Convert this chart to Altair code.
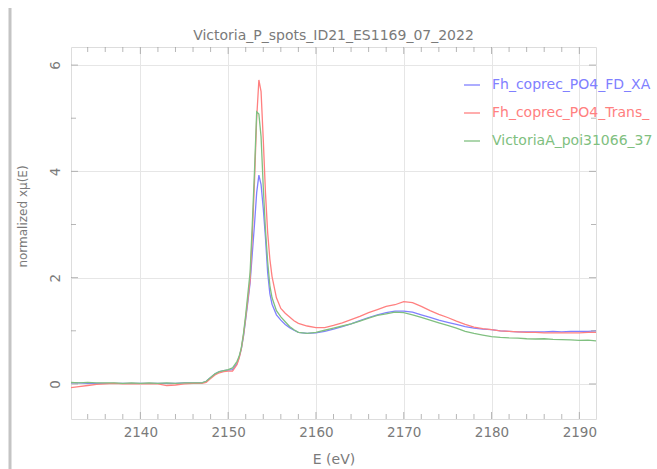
import altair as alt
import pandas as pd

# ---------------- data ----------------
energy = (
    [2132, 2133, 2134, 2135, 2136, 2137, 2138, 2139, 2140, 2141, 2142, 2143, 2144, 2145, 2146]
    + [2147, 2147.5, 2148, 2148.5, 2149, 2149.5, 2150, 2150.5]
    + [2151, 2151.25, 2151.5, 2151.75, 2152, 2152.25, 2152.5, 2152.75, 2153, 2153.25, 2153.5,
       2153.75, 2154, 2154.25, 2154.5, 2154.75, 2155, 2155.5, 2156, 2156.5, 2157, 2157.5]
    + [2158, 2159, 2160, 2161, 2162, 2163, 2164, 2165, 2166, 2167, 2168, 2169, 2170, 2171, 2172,
       2173, 2174, 2175, 2176, 2177, 2178, 2179, 2180, 2181, 2182, 2183, 2184, 2185, 2186, 2187,
       2188, 2189, 2190, 2191, 2192]
)

blue_fd = (
    [0.02, 0.02, 0.01, 0.01, 0.01, 0.01, 0.01, 0.01, 0.01, 0.01, 0.01, 0.01, 0.01, 0.02, 0.02]
    + [0.02, 0.05, 0.12, 0.19, 0.23, 0.25, 0.26, 0.27]
    + [0.38, 0.5, 0.66, 0.9, 1.22, 1.55, 1.9, 2.45, 3.0, 3.6, 3.93, 3.75, 3.3, 2.75, 2.1, 1.7,
       1.5, 1.3, 1.2, 1.12, 1.06, 1.01]
    + [0.97, 0.95, 0.96, 0.99, 1.03, 1.08, 1.13, 1.19, 1.25, 1.3, 1.34, 1.37, 1.37, 1.35, 1.3,
       1.25, 1.2, 1.16, 1.12, 1.08, 1.05, 1.03, 1.02, 1.0, 0.99, 0.98, 0.98, 0.98, 0.98, 0.99,
       0.98, 0.99, 0.99, 0.99, 1.0]
)

red_trans = (
    [-0.07, -0.05, -0.03, -0.01, 0.0, 0.01, 0.0, 0.0, 0.0, 0.0, 0.0, -0.03, -0.02, 0.0, 0.01]
    + [0.01, 0.03, 0.1, 0.17, 0.21, 0.23, 0.24, 0.24]
    + [0.36, 0.48, 0.66, 0.92, 1.25, 1.6, 1.95, 2.8, 3.8, 5.0, 5.72, 5.5, 4.6, 3.6, 2.85, 2.35,
       2.02, 1.62, 1.42, 1.33, 1.26, 1.19]
    + [1.14, 1.09, 1.06, 1.06, 1.1, 1.15, 1.21, 1.27, 1.34, 1.4, 1.46, 1.49, 1.55, 1.53, 1.46,
       1.38, 1.31, 1.25, 1.18, 1.12, 1.07, 1.04, 1.02, 1.0, 0.99, 0.98, 0.97, 0.97, 0.96, 0.96,
       0.96, 0.96, 0.96, 0.97, 0.97]
)

green_victoria = (
    [0.03, 0.02, 0.03, 0.02, 0.02, 0.02, 0.01, 0.02, 0.01, 0.02, 0.01, 0.02, 0.01, 0.02, 0.02]
    + [0.02, 0.05, 0.12, 0.19, 0.23, 0.25, 0.27, 0.3]
    + [0.42, 0.52, 0.68, 0.95, 1.3, 1.7, 2.1, 3.0, 4.0, 5.12, 5.08, 4.65, 3.7, 2.9, 2.3, 1.85,
       1.62, 1.38, 1.26, 1.17, 1.08, 1.02]
    + [0.97, 0.95, 0.97, 1.01, 1.05, 1.09, 1.13, 1.18, 1.24, 1.29, 1.32, 1.35, 1.34, 1.3, 1.25,
       1.2, 1.15, 1.1, 1.05, 0.99, 0.95, 0.92, 0.89, 0.875, 0.865, 0.86, 0.85, 0.845, 0.85, 0.84,
       0.835, 0.83, 0.82, 0.825, 0.81]
)

series_names = ["Fh_coprec_PO4_FD_XA", "Fh_coprec_PO4_Trans_", "VictoriaA_poi31066_37"]
series_colors = ["#8080ff", "#ff8080", "#80c080"]

x_major = [2140, 2150, 2160, 2170, 2180, 2190]
x_minor = [2134, 2136, 2138, 2142, 2144, 2146, 2148, 2152, 2154, 2156, 2158, 2162, 2164, 2166,
           2168, 2172, 2174, 2176, 2178, 2182, 2184, 2186, 2188]
y_major = [0, 2, 4, 6]
y_minor = [1, 3, 5]

title_text = "Victoria_P_spots_ID21_ES1169_07_2022"
x_title = "E (eV)"
y_title = "normalized xμ(E)"

# ---------------- layout ----------------
W, H = 525, 372
x_dom = [2132.1, 2191.9]
y_dom = [-0.66, 6.34]
FONT = "DejaVu Sans"
TXT = "#7a7a7a"
FRAME = "#999999"

rows = []
for name, vals in zip(series_names, [blue_fd, red_trans, green_victoria]):
    for e, v in zip(energy, vals):
        rows.append({"E": e, "v": v, "series": name})
df = pd.DataFrame(rows)

xs = alt.Scale(domain=x_dom, nice=False, zero=False)
ys = alt.Scale(domain=y_dom, nice=False, zero=False)

x_axis = alt.Axis(
    values=x_major, format="d", title=x_title, grid=True, gridColor="#e6e6e6",
    domain=False, ticks=False, labelFont=FONT, labelFontSize=13.5, labelColor=TXT,
    labelPadding=6, titleFont=FONT, titleFontSize=14, titleColor=TXT,
    titleFontWeight="normal", titleX=W / 2, titleY=40, titleBaseline="middle")
y_axis = alt.Axis(
    values=y_major, format="d", title=y_title, grid=True, gridColor="#e6e6e6",
    domain=False, ticks=False, labelFont=FONT, labelFontSize=13.5, labelColor=TXT,
    labelAngle=270, labelAlign="center", labelBaseline="middle", labelPadding=16,
    titleFont=FONT, titleFontSize=12, titleColor=TXT, titleFontWeight="normal",
    titleAngle=270, titleX=-49, titleY=169, titleAlign="center", titleBaseline="middle")

label_color_expr = (
    f"datum.value == '{series_names[0]}' ? '{series_colors[0]}' : "
    f"datum.value == '{series_names[1]}' ? '{series_colors[1]}' : '{series_colors[2]}'"
)

lines = alt.Chart(df).mark_line(strokeWidth=1.3, clip=True).encode(
    x=alt.X("E:Q", scale=xs, axis=x_axis),
    y=alt.Y("v:Q", scale=ys, axis=y_axis),
    color=alt.Color("series:N", sort=series_names,
                    scale=alt.Scale(domain=series_names, range=series_colors),
                    legend=alt.Legend(
                        title=None, orient="none", legendX=392, legendY=29, padding=0,
                        symbolType="stroke", symbolSize=256, symbolStrokeWidth=1.3,
                        labelFont=FONT, labelFontSize=14, labelLimit=400, labelOffset=11,
                        rowPadding=12, labelColor=alt.ExprRef(label_color_expr))),
)

def xtick_layer(vals, y_px, size):
    d = pd.DataFrame({"E": vals})
    return alt.Chart(d).mark_tick(color=FRAME, thickness=1, size=size).encode(
        x=alt.X("E:Q", scale=xs, axis=x_axis), y=alt.value(y_px))

def ytick_layer(vals, x_px, size):
    d = pd.DataFrame({"v": vals})
    return alt.Chart(d).mark_tick(color=FRAME, thickness=1, size=size).encode(
        y=alt.Y("v:Q", scale=ys, axis=y_axis), x=alt.value(x_px))

MIN_T, MAJ_T = 5, 7
ticks = [
    xtick_layer(x_minor, H - MIN_T / 2, MIN_T),
    xtick_layer(x_major, H - MAJ_T / 2, MAJ_T),
    xtick_layer(x_minor, MIN_T / 2, MIN_T),
    xtick_layer(x_major, MAJ_T / 2, MAJ_T),
    ytick_layer(y_minor, MIN_T / 2, MIN_T),
    ytick_layer(y_major, MAJ_T / 2, MAJ_T),
    ytick_layer(y_minor, W - MIN_T / 2, MIN_T),
    ytick_layer(y_major, W - MAJ_T / 2, MAJ_T),
]

side_bar = alt.Chart(pd.DataFrame({"k": [0]})).mark_rule(
    color="#c4c4c4", strokeWidth=3).encode(
    x=alt.value(-61), y=alt.value(-39), y2=alt.value(430))

chart = alt.layer(lines, *ticks, side_bar).properties(
    width=W, height=H,
    title=alt.TitleParams(title_text, font=FONT, fontSize=14, fontWeight="normal",
                          color=TXT, anchor="middle", offset=0, dy=36),
    autosize=alt.AutoSizeParams(type="none"),
    padding={"left": 71, "top": 47, "right": 61, "bottom": 50},
).configure_view(stroke=FRAME, strokeWidth=1.3).configure(background="white")

chart.save("out.html", embed_options={"renderer": "svg", "actions": False})
